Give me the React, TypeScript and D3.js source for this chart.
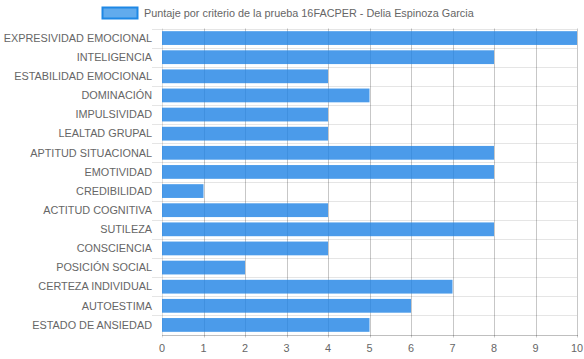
import React from "react";
import * as d3 from "d3";

const categories = [
  "EXPRESIVIDAD EMOCIONAL",
  "INTELIGENCIA",
  "ESTABILIDAD EMOCIONAL",
  "DOMINACIÓN",
  "IMPULSIVIDAD",
  "LEALTAD GRUPAL",
  "APTITUD SITUACIONAL",
  "EMOTIVIDAD",
  "CREDIBILIDAD",
  "ACTITUD COGNITIVA",
  "SUTILEZA",
  "CONSCIENCIA",
  "POSICIÓN SOCIAL",
  "CERTEZA INDIVIDUAL",
  "AUTOESTIMA",
  "ESTADO DE ANSIEDAD",
];
const values = [10, 8, 4, 5, 4, 4, 8, 8, 1, 4, 8, 4, 2, 7, 6, 5];
const xTicks = [0, 1, 2, 3, 4, 5, 6, 7, 8, 9, 10];
const seriesLabel = "Puntaje por criterio de la prueba 16FACPER - Delia Espinoza Garcia";

const W = 584;
const H = 359;
const left = 162;
const right = 577;
const top = 28.5;
const bottom = 334.5;
const font = "'Liberation Sans', Arial, Helvetica, sans-serif";
const fs = 10.85;

export default function App() {
  const x = d3.scaleLinear().domain([0, 10]).range([left, right]);
  const band = d3.scaleBand<string>().domain(categories).range([top, bottom]).paddingInner(0).paddingOuter(0);
  const bw = band.bandwidth();
  const barH = bw * 0.72;
  const boundaries = d3.range(categories.length + 1).map((i) => top + i * bw);

  return (
    <svg width={W} height={H} style={{ position: "absolute", left: 0, top: 0 }}>
      <rect width={W} height={H} fill="#fff" />
      {/* legend */}
      <rect x={102.5} y={7.5} width={35} height={11} fill="rgba(30,136,229,0.7)" stroke="#1e88e5" strokeWidth={2} />
      <text x={144} y={13} dy="0.35em" fontSize={fs} fill="#666" fontFamily={font}>
        {seriesLabel}
      </text>
      {/* horizontal grid lines */}
      {boundaries.slice(0, -1).map((b, i) => (
        <line key={"h" + i} x1={152} x2={right} y1={Math.round(b) + 0.5} y2={Math.round(b) + 0.5} stroke="rgba(0,0,0,0.1)" />
      ))}
      {/* vertical grid lines */}
      {xTicks.map((t) => (
        <line
          key={"v" + t}
          x1={Math.round(x(t)) + 0.5}
          x2={Math.round(x(t)) + 0.5}
          y1={top}
          y2={bottom + 3}
          stroke={t === 0 ? "rgba(0,0,0,0.13)" : "rgba(0,0,0,0.22)"}
        />
      ))}
      {/* x axis line */}
      <line x1={left} x2={right + 1} y1={Math.round(bottom) + 0.5} y2={Math.round(bottom) + 0.5} stroke="rgba(0,0,0,0.25)" />
      {/* bars */}
      {categories.map((c, i) => {
        const y0 = (band(c) as number) + (bw - barH) / 2;
        return (
          <rect
            key={"b" + i}
            x={x(0)}
            y={y0}
            width={x(values[i]) - x(0)}
            height={barH}
            fill="rgba(30,130,229,0.8)"
          />
        );
      })}
      {/* y labels */}
      {categories.map((c, i) => (
        <text
          key={"l" + i}
          x={152}
          y={(band(c) as number) + bw / 2}
          dy="0.35em"
          textAnchor="end"
          fontSize={fs}
          fill="#666"
          fontFamily={font}
        >
          {c}
        </text>
      ))}
      {/* x tick labels */}
      {xTicks.map((t) => (
        <text key={"t" + t} x={x(t)} y={348} dy="0.35em" textAnchor="middle" fontSize={fs} fill="#666" fontFamily={font}>
          {t}
        </text>
      ))}
    </svg>
  );
}
